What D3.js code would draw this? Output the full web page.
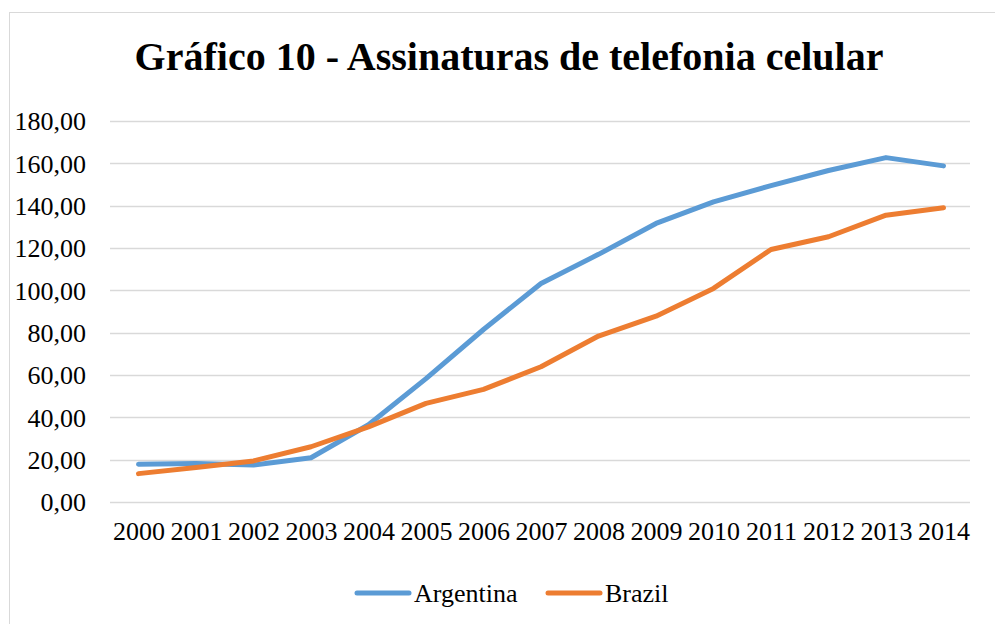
<!DOCTYPE html>
<html>
<head>
<meta charset="utf-8">
<script src="https://cdn.jsdelivr.net/npm/d3@7"></script>
<style>
html,body{margin:0;padding:0;background:#fff;}
svg{display:block;}
svg text{font-family:'Liberation Serif','Times New Roman',serif !important;fill:#000;}
</style>
</head>
<body>
<svg id="chart" width="995" height="624"></svg>
<script>
const years = ["2000","2001","2002","2003","2004","2005","2006","2007","2008","2009","2010","2011","2012","2013","2014"];
const argentina = [17.8,18.2,17.5,20.9,36.5,58.3,81.5,103.2,117.0,131.6,141.8,149.5,156.6,162.7,158.8];
const brazil = [13.4,16.3,19.4,26.1,35.5,46.6,53.2,63.9,78.4,87.8,100.9,119.3,125.3,135.5,139.0];
const yTicks = [0,20,40,60,80,100,120,140,160,180];
const seriesNames = ["Argentina","Brazil"];
const colors = ["#5b9bd5","#ed7d31"];
const title = "Gráfico 10 - Assinaturas de telefonia celular";

const FONT = "'Liberation Serif','Times New Roman',serif";
const svg = d3.select("#chart");
const W = 995, H = 624;

// chart border
svg.append("rect").attr("x",9.5).attr("y",12.5).attr("width",W+10).attr("height",H+10)
  .attr("fill","#fff").attr("stroke","#d9d9d9").attr("stroke-width",1);

svg.append("text").attr("x",509).attr("y",70).attr("text-anchor","middle")
  .style("font-family",FONT).attr("font-size",40).attr("font-weight","bold").text(title);

const x = d3.scalePoint().domain(years).range([138.5,943.5]);
const y = d3.scaleLinear().domain([0,180]).range([502,121]);

// gridlines
svg.append("g").selectAll("line").data(yTicks).join("line")
  .attr("x1",110).attr("x2",970)
  .attr("y1",d=>Math.round(y(d))+0.5).attr("y2",d=>Math.round(y(d))+0.5)
  .attr("stroke","#d9d9d9").attr("stroke-width",1.5);

// y axis labels
const fmt = d => d3.format(".2f")(d).replace(".",",");
const yAxis = d3.axisLeft(y).tickValues(yTicks).tickFormat(fmt).tickSize(0).tickPadding(0);
const gy = svg.append("g").attr("transform","translate(86,0)").call(yAxis);
gy.attr("font-family",null).attr("font-size",null);
gy.select(".domain").remove();
gy.selectAll("text").style("font-family",FONT).attr("font-size",26).attr("fill","#000").attr("dy","0.34em");

// x axis labels
const xAxis = d3.axisBottom(x).tickSize(0).tickPadding(0);
const gx = svg.append("g").attr("transform","translate(0,522)").call(xAxis);
gx.attr("font-family",null).attr("font-size",null);
gx.select(".domain").remove();
gx.selectAll("text").style("font-family",FONT).attr("font-size",26).attr("fill","#000").attr("dy","0.71em");

// lines
const line = d3.line().x((d,i)=>x(years[i])).y(d=>y(d));
[argentina, brazil].forEach((s,k)=>{
  svg.append("path").datum(s).attr("d",line).attr("fill","none")
    .attr("stroke",colors[k]).attr("stroke-width",5)
    .attr("stroke-linejoin","round").attr("stroke-linecap","round");
});

// legend
const legendItems = [{name:seriesNames[0],x0:357,x1:409,tx:414},{name:seriesNames[1],x0:548,x1:600,tx:605}];
legendItems.forEach((it,k)=>{
  svg.append("line").attr("x1",it.x0).attr("x2",it.x1).attr("y1",593).attr("y2",593)
    .attr("stroke",colors[k]).attr("stroke-width",5).attr("stroke-linecap","round");
  svg.append("text").attr("x",it.tx).attr("y",602).style("font-family",FONT).attr("font-size",26).text(it.name);
});
</script>
</body>
</html>
